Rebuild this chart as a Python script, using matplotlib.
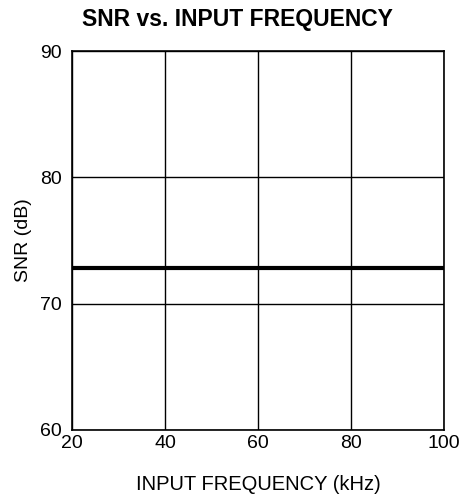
import matplotlib.pyplot as plt

plt.rcParams['font.family'] = ['Liberation Sans', 'DejaVu Sans']

# SNR measured over the input frequency sweep
freq_khz = [20, 40, 60, 80, 100]
snr_db = [72.8, 72.8, 72.8, 72.8, 72.8]

fig = plt.figure(figsize=(4.64, 4.97), dpi=100)
ax = fig.add_axes([0.155, 0.135, 0.802, 0.762])

ax.plot(freq_khz, snr_db, color='black', linewidth=3, solid_capstyle='butt')

ax.set_xlim(20, 100)
ax.set_ylim(60, 90)
ax.set_xticks([20, 40, 60, 80, 100])
ax.set_yticks([60, 70, 80, 90])
ax.grid(True, color='black', linewidth=1)
ax.tick_params(length=0, labelsize=14)
ax.tick_params(axis='x', pad=4)
ax.tick_params(axis='y', pad=7)
for s in ax.spines.values():
    s.set_linewidth(1.2)

ax.set_xlabel('INPUT FREQUENCY (kHz)', fontsize=14.5, labelpad=16)
ax.set_ylabel('SNR (dB)', fontsize=14, labelpad=6)
ax.set_title('SNR vs. INPUT FREQUENCY', fontsize=16.5, fontweight='bold',
             x=0.445, pad=18)

fig.savefig('out.png', dpi=100)
